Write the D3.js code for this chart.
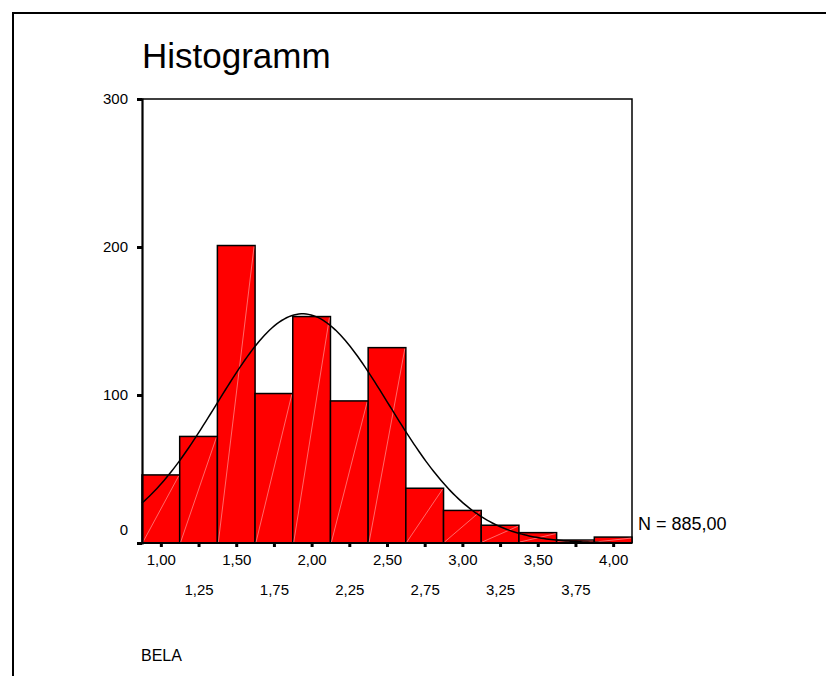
<!DOCTYPE html>
<html>
<head>
<meta charset="utf-8">
<script src="https://cdn.jsdelivr.net/npm/d3@7/dist/d3.min.js"></script>
<style>
  html, body { margin: 0; padding: 0; background: #fff; }
  svg { display: block; font-family: "Liberation Sans", Arial, Helvetica, sans-serif; }
</style>
</head>
<body>
<svg id="chart" width="826" height="676"></svg>
<script>
// Histogram of BELA with fitted normal curve
const binCenters = [1.00, 1.25, 1.50, 1.75, 2.00, 2.25, 2.50, 2.75, 3.00, 3.25, 3.50, 3.75, 4.00];
const binCounts  = [46, 72, 201, 101, 153, 96, 132, 37, 22, 12, 7, 2, 4];
const binWidth = 0.25;
const yTickValues = [0, 100, 200, 300];
const sampleN = 885;
const sampleMean = 1.94;
const sampleSd = 0.57;
const titleText = "Histogramm";
const variableName = "BELA";

const de = d3.formatLocale({ decimal: ",", thousands: ".", grouping: [3], currency: ["", " €"] });
const fmt2 = de.format(".2f");

const svg = d3.select("#chart");

// outer frame (left and top edges)
svg.append("path")
  .attr("d", "M13,676 V13 H826")
  .attr("fill", "none").attr("stroke", "#000").attr("stroke-width", 2);

const plotL = 142, plotR = 632, plotT = 99, plotB = 543;
const x = d3.scaleLinear()
  .domain([binCenters[0] - binWidth / 2, binCenters[binCenters.length - 1] + binWidth / 2])
  .range([plotL, plotR]);
const y = d3.scaleLinear().domain([0, 300]).range([plotB, plotT]);

// title
svg.append("text")
  .attr("x", 142).attr("y", 68)
  .attr("font-size", 35)
  .text(titleText);

// plot frame: top and right
svg.append("path")
  .attr("d", `M${plotL},${plotT} H${plotR} V${plotB}`)
  .attr("fill", "none").attr("stroke", "#000").attr("stroke-width", 1.5);

// bars
const bars = svg.append("g");
binCenters.forEach((c, i) => {
  const x0 = x(c - binWidth / 2), x1 = x(c + binWidth / 2);
  const y0 = y(binCounts[i]);
  bars.append("rect")
    .attr("x", x0).attr("y", y0)
    .attr("width", x1 - x0).attr("height", y(0) - y0)
    .attr("fill", "#ff0000").attr("stroke", "#000").attr("stroke-width", 1.5);
  bars.append("line")
    .attr("x1", x0 + 1).attr("y1", y(0) - 1)
    .attr("x2", x1 - 1).attr("y2", y0 + 1)
    .attr("stroke", "#ffb0b0").attr("stroke-width", 0.6);
});

// fitted normal curve
const pdf = v => sampleN * binWidth / (sampleSd * Math.sqrt(2 * Math.PI)) *
  Math.exp(-0.5 * Math.pow((v - sampleMean) / sampleSd, 2));
const [d0, d1] = x.domain();
const curvePts = d3.range(0, 201).map(k => d0 + (d1 - d0) * k / 200);
svg.append("path")
  .datum(curvePts)
  .attr("d", d3.line().x(v => x(v)).y(v => y(pdf(v))))
  .attr("fill", "none").attr("stroke", "#000").attr("stroke-width", 1.5);

// y axis
const yAxis = svg.append("g")
  .attr("transform", `translate(${plotL},0)`)
  .call(d3.axisLeft(y).tickValues(yTickValues).tickSize(5).tickPadding(9).tickFormat(d3.format("d")));
yAxis.select(".domain").attr("stroke-width", 2.2);
yAxis.selectAll(".tick line").attr("stroke-width", 3);
yAxis.selectAll(".tick text")
  .attr("font-size", 15).attr("font-family", "Liberation Sans, Arial, sans-serif")
  .attr("fill", "#000")
  .attr("dy", d => d === 0 ? "-0.55em" : "0.32em");

// x axis
const xAxis = svg.append("g")
  .attr("transform", `translate(0,${plotB})`)
  .call(d3.axisBottom(x).tickValues(binCenters).tickSize(4).tickPadding(0).tickFormat(fmt2));
xAxis.select(".domain").attr("d", `M${plotL},0H${plotR}`).attr("stroke-width", 2);
xAxis.selectAll(".tick line").attr("stroke-width", 3).attr("y1", 1);
xAxis.selectAll(".tick text")
  .attr("font-size", 15).attr("font-family", "Liberation Sans, Arial, sans-serif")
  .attr("fill", "#000")
  .attr("dy", null)
  .attr("y", (d, i) => i % 2 === 0 ? 22 : 52);

// N label
svg.append("text")
  .attr("x", 638).attr("y", 530)
  .attr("font-size", 18)
  .text("N = " + de.format(".2f")(sampleN));

// variable name
svg.append("text")
  .attr("x", 141).attr("y", 661)
  .attr("font-size", 16)
  .text(variableName);
</script>
</body>
</html>
